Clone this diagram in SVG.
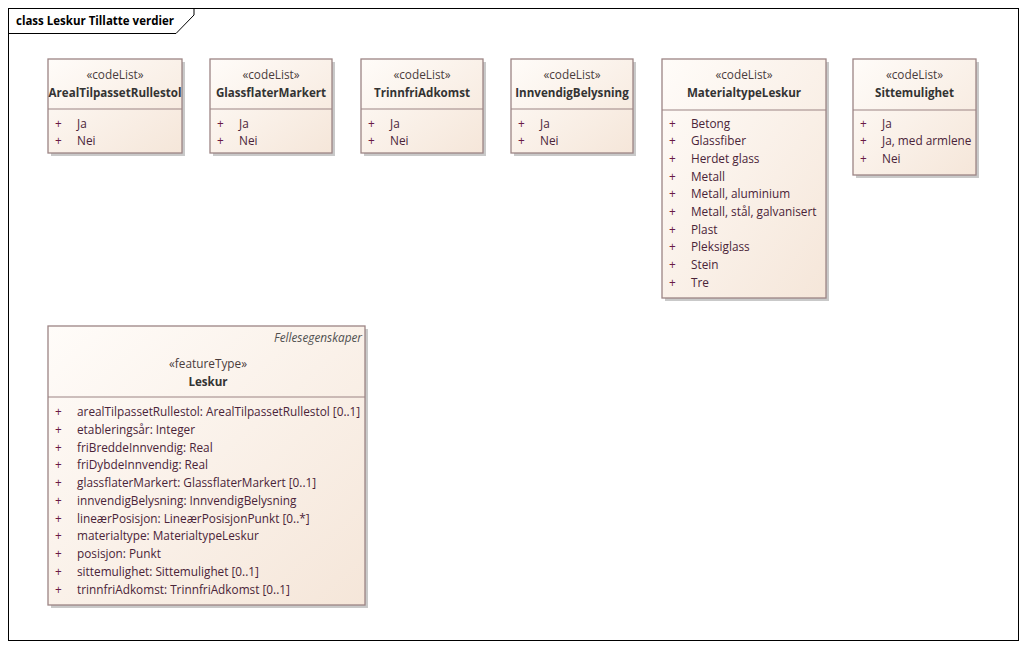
<svg xmlns="http://www.w3.org/2000/svg" width="1028" height="650" viewBox="0 0 1028 650">
<defs>
<linearGradient id="bg" x1="0" y1="0" x2="1" y2="1">
<stop offset="0" stop-color="#fffcf9"/>
<stop offset="1" stop-color="#f5e6d9"/>
</linearGradient>
<style>
.t{font-family:"Open Sans","Liberation Sans",sans-serif;font-size:11.8px;fill:#3a2a30}
.st{text-anchor:middle;fill:#4a3c3c}
.nm{text-anchor:middle;font-weight:bold;font-size:11.6px;fill:#333}
.pl{fill:#6a1a44}
.at{fill:#4a2438}
.box{fill:url(#bg);stroke:#9c8484;stroke-width:1.3}
.sh{fill:#c9c9c9}
.div{stroke:#9c8484;stroke-width:1.2}
.it{font-style:italic;text-anchor:end;fill:#505050}
</style>
</defs>
<rect x="0" y="0" width="1028" height="650" fill="#fff"/>
<g id="frame">
<rect x="8.5" y="8.5" width="1010" height="632" fill="none" stroke="#000" stroke-width="1"/>
<polyline points="8.5,33.5 176,33.5 194,15 194,8.5" fill="none" stroke="#000" stroke-width="1"/>
<text x="16" y="25" style="font-family:'Open Sans','Liberation Sans',sans-serif;font-size:11.5px;font-weight:bold;fill:#000">class Leskur Tillatte verdier</text>
</g>
<g id="connectors"/>
<g id="ArealTilpassetRullestol">
<rect class="sh" x="51" y="62" width="134" height="94"/>
<rect class="box" x="48" y="59" width="134" height="94"/>
<line class="div" x1="48" y1="109" x2="182" y2="109"/>
<text class="t st" x="115" y="79">«codeList»</text>
<text class="t nm" x="115" y="97">ArealTilpassetRullestol</text>
<text class="t pl" x="55" y="127.5">+</text><text class="t at" x="77" y="127.5">Ja</text>
<text class="t pl" x="55" y="145">+</text><text class="t at" x="77" y="145">Nei</text>
</g>
<g id="GlassflaterMarkert">
<rect class="sh" x="213" y="62" width="122" height="94"/>
<rect class="box" x="210" y="59" width="122" height="94"/>
<line class="div" x1="210" y1="109" x2="332" y2="109"/>
<text class="t st" x="271" y="79">«codeList»</text>
<text class="t nm" x="271" y="97">GlassflaterMarkert</text>
<text class="t pl" x="217" y="127.5">+</text><text class="t at" x="239" y="127.5">Ja</text>
<text class="t pl" x="217" y="145">+</text><text class="t at" x="239" y="145">Nei</text>
</g>
<g id="TrinnfriAdkomst">
<rect class="sh" x="364" y="62" width="122" height="94"/>
<rect class="box" x="361" y="59" width="122" height="94"/>
<line class="div" x1="361" y1="109" x2="483" y2="109"/>
<text class="t st" x="422" y="79">«codeList»</text>
<text class="t nm" x="422" y="97">TrinnfriAdkomst</text>
<text class="t pl" x="368" y="127.5">+</text><text class="t at" x="390" y="127.5">Ja</text>
<text class="t pl" x="368" y="145">+</text><text class="t at" x="390" y="145">Nei</text>
</g>
<g id="InnvendigBelysning">
<rect class="sh" x="514" y="62" width="122" height="94"/>
<rect class="box" x="511" y="59" width="122" height="94"/>
<line class="div" x1="511" y1="109" x2="633" y2="109"/>
<text class="t st" x="572" y="79">«codeList»</text>
<text class="t nm" x="572" y="97">InnvendigBelysning</text>
<text class="t pl" x="518" y="127.5">+</text><text class="t at" x="540" y="127.5">Ja</text>
<text class="t pl" x="518" y="145">+</text><text class="t at" x="540" y="145">Nei</text>
</g>
<g id="MaterialtypeLeskur">
<rect class="sh" x="665" y="62" width="164" height="239"/>
<rect class="box" x="662" y="59" width="164" height="239"/>
<line class="div" x1="662" y1="110" x2="826" y2="110"/>
<text class="t st" x="744" y="79">«codeList»</text>
<text class="t nm" x="744" y="97">MaterialtypeLeskur</text>
<text class="t pl" x="669" y="127.5">+</text><text class="t at" x="691" y="127.5">Betong</text>
<text class="t pl" x="669" y="145.2">+</text><text class="t at" x="691" y="145.2">Glassfiber</text>
<text class="t pl" x="669" y="162.9">+</text><text class="t at" x="691" y="162.9">Herdet glass</text>
<text class="t pl" x="669" y="180.6">+</text><text class="t at" x="691" y="180.6">Metall</text>
<text class="t pl" x="669" y="198.3">+</text><text class="t at" x="691" y="198.3">Metall, aluminium</text>
<text class="t pl" x="669" y="216">+</text><text class="t at" x="691" y="216">Metall, stål, galvanisert</text>
<text class="t pl" x="669" y="233.7">+</text><text class="t at" x="691" y="233.7">Plast</text>
<text class="t pl" x="669" y="251.4">+</text><text class="t at" x="691" y="251.4">Pleksiglass</text>
<text class="t pl" x="669" y="269.1">+</text><text class="t at" x="691" y="269.1">Stein</text>
<text class="t pl" x="669" y="286.8">+</text><text class="t at" x="691" y="286.8">Tre</text>
</g>
<g id="Sittemulighet">
<rect class="sh" x="856" y="62" width="123" height="116"/>
<rect class="box" x="853" y="59" width="123" height="116"/>
<line class="div" x1="853" y1="110" x2="976" y2="110"/>
<text class="t st" x="914.5" y="79">«codeList»</text>
<text class="t nm" x="914.5" y="97">Sittemulighet</text>
<text class="t pl" x="860" y="127.5">+</text><text class="t at" x="882" y="127.5">Ja</text>
<text class="t pl" x="860" y="145.2">+</text><text class="t at" x="882" y="145.2">Ja, med armlene</text>
<text class="t pl" x="860" y="162.9">+</text><text class="t at" x="882" y="162.9">Nei</text>
</g>
<g id="Leskur">
<rect class="sh" x="51" y="329" width="317" height="279"/>
<rect class="box" x="48" y="326" width="317" height="279"/>
<line class="div" x1="48" y1="397" x2="365" y2="397"/>
<text class="t it" x="362" y="342">Fellesegenskaper</text>
<text class="t st" x="208" y="368">«featureType»</text>
<text class="t nm" x="208" y="386">Leskur</text>
<text class="t pl" x="55" y="416">+</text><text class="t at" x="77" y="416">arealTilpassetRullestol: ArealTilpassetRullestol [0..1]</text>
<text class="t pl" x="55" y="433.8">+</text><text class="t at" x="77" y="433.8">etableringsår: Integer</text>
<text class="t pl" x="55" y="451.5">+</text><text class="t at" x="77" y="451.5">friBreddeInnvendig: Real</text>
<text class="t pl" x="55" y="469.3">+</text><text class="t at" x="77" y="469.3">friDybdeInnvendig: Real</text>
<text class="t pl" x="55" y="487">+</text><text class="t at" x="77" y="487">glassflaterMarkert: GlassflaterMarkert [0..1]</text>
<text class="t pl" x="55" y="504.8">+</text><text class="t at" x="77" y="504.8">innvendigBelysning: InnvendigBelysning</text>
<text class="t pl" x="55" y="522.5">+</text><text class="t at" x="77" y="522.5">lineærPosisjon: LineærPosisjonPunkt [0..*]</text>
<text class="t pl" x="55" y="540.3">+</text><text class="t at" x="77" y="540.3">materialtype: MaterialtypeLeskur</text>
<text class="t pl" x="55" y="558">+</text><text class="t at" x="77" y="558">posisjon: Punkt</text>
<text class="t pl" x="55" y="575.8">+</text><text class="t at" x="77" y="575.8">sittemulighet: Sittemulighet [0..1]</text>
<text class="t pl" x="55" y="593.5">+</text><text class="t at" x="77" y="593.5">trinnfriAdkomst: TrinnfriAdkomst [0..1]</text>
</g>
</svg>
